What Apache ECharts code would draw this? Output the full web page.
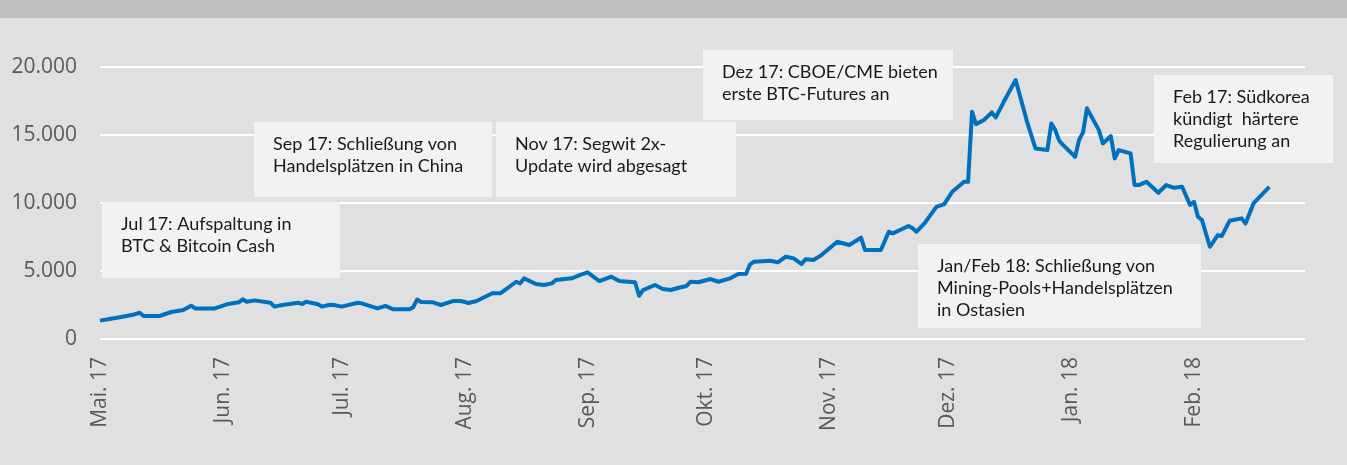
<!DOCTYPE html>
<html>
<head>
<meta charset="utf-8">
<script src="https://cdn.jsdelivr.net/npm/echarts@6/dist/echarts.min.js"></script>
<style>
  html, body { margin: 0; padding: 0; background: #e0e0e0; }
  #chart { width: 1347px; height: 465px; }
</style>
</head>
<body>
<div id="chart"></div>
<script>
// Bitcoin-Kurs (USD), Mai 2017 - Feb 2018
var dates = [
  '2017-05-01', '2017-05-03', '2017-05-06', '2017-05-09', '2017-05-11', '2017-05-12', '2017-05-16', '2017-05-19',
  '2017-05-22', '2017-05-24', '2017-05-25', '2017-05-30', '2017-06-02', '2017-06-05', '2017-06-06', '2017-06-07',
  '2017-06-09', '2017-06-13', '2017-06-14', '2017-06-16', '2017-06-20', '2017-06-21', '2017-06-22', '2017-06-25',
  '2017-06-26', '2017-06-28', '2017-06-29', '2017-07-01', '2017-07-05', '2017-07-06', '2017-07-10', '2017-07-12',
  '2017-07-14', '2017-07-18', '2017-07-19', '2017-07-20', '2017-07-21', '2017-07-24', '2017-07-26', '2017-07-29',
  '2017-07-31', '2017-08-02', '2017-08-04', '2017-08-08', '2017-08-10', '2017-08-14', '2017-08-15', '2017-08-16',
  '2017-08-19', '2017-08-21', '2017-08-23', '2017-08-24', '2017-08-28', '2017-08-30', '2017-09-01', '2017-09-04',
  '2017-09-07', '2017-09-09', '2017-09-13', '2017-09-14', '2017-09-15', '2017-09-18', '2017-09-20', '2017-09-22',
  '2017-09-24', '2017-09-26', '2017-09-27', '2017-09-29', '2017-10-02', '2017-10-04', '2017-10-07', '2017-10-09',
  '2017-10-11', '2017-10-12', '2017-10-13', '2017-10-17', '2017-10-19', '2017-10-21', '2017-10-23', '2017-10-25',
  '2017-10-26', '2017-10-28', '2017-10-30', '2017-11-03', '2017-11-06', '2017-11-09', '2017-11-10', '2017-11-14',
  '2017-11-16', '2017-11-17', '2017-11-21', '2017-11-22', '2017-11-23', '2017-11-25', '2017-11-28', '2017-11-30',
  '2017-12-02', '2017-12-05', '2017-12-06', '2017-12-07', '2017-12-08', '2017-12-10', '2017-12-12', '2017-12-13',
  '2017-12-15', '2017-12-18', '2017-12-21', '2017-12-23', '2017-12-26', '2017-12-27', '2017-12-28', '2017-12-29',
  '2017-12-30', '2018-01-02', '2018-01-03', '2018-01-04', '2018-01-05', '2018-01-08', '2018-01-09', '2018-01-11',
  '2018-01-12', '2018-01-13', '2018-01-16', '2018-01-17', '2018-01-18', '2018-01-20', '2018-01-23', '2018-01-25',
  '2018-01-27', '2018-01-29', '2018-01-31', '2018-02-01', '2018-02-02', '2018-02-03', '2018-02-05', '2018-02-07',
  '2018-02-08', '2018-02-10', '2018-02-13', '2018-02-14', '2018-02-16', '2018-02-20'
];
var prices = [
  1350, 1450, 1600, 1760, 1930, 1690, 1690, 1985,
  2130, 2450, 2250, 2250, 2550, 2700, 2920, 2740,
  2840, 2670, 2380, 2500, 2670, 2570, 2740, 2550,
  2380, 2520, 2500, 2380, 2670, 2620, 2250, 2430,
  2180, 2180, 2330, 2900, 2720, 2700, 2500, 2790,
  2790, 2650, 2790, 3360, 3360, 4210, 4090, 4460,
  4040, 3970, 4090, 4340, 4460, 4700, 4900, 4260,
  4580, 4260, 4170, 3180, 3600, 3970, 3680, 3600,
  3770, 3900, 4210, 4170, 4410, 4210, 4460, 4780,
  4800, 5490, 5680, 5750, 5640, 6050, 5930, 5510,
  5860, 5810, 6170, 7150, 6910, 7450, 6540, 6540,
  7890, 7770, 8310, 8140, 7890, 8500, 9720, 9920,
  10830, 11560, 11560, 16710, 15800, 16100, 16660, 16290,
  17440, 19040, 15850, 14010, 13890, 15850, 15360, 14570,
  14260, 13400, 14630, 15190, 16960, 15360, 14380, 14920,
  13280, 13890, 13650, 11320, 11320, 11560, 10750, 11320,
  11120, 11190, 9850, 10090, 8990, 8750, 6780, 7640,
  7570, 8700, 8870, 8500, 9970, 11190
];

// Achsenbeschriftung
var monthStarts = ['2017-05-01', '2017-06-01', '2017-07-01', '2017-08-01', '2017-09-01',
                   '2017-10-01', '2017-11-01', '2017-12-01', '2018-01-01', '2018-02-01'];
var monthLabels = ['Mai. 17', 'Jun. 17', 'Jul. 17', 'Aug. 17', 'Sep. 17',
                   'Okt. 17', 'Nov. 17', 'Dez. 17', 'Jan. 18', 'Feb. 18'];
var axisStart = '2017-05-01';
var axisEnd = '2018-03-01';
var yTicks = [0, 5000, 10000, 15000, 20000];

// Ereignisse
var notes = [
  'Jul 17: Aufspaltung in\nBTC & Bitcoin Cash',
  'Sep 17: Schließung von\nHandelsplätzen in China',
  'Nov 17: Segwit 2x-\nUpdate wird abgesagt',
  'Dez 17: CBOE/CME bieten\nerste BTC-Futures an',
  'Feb 17: Südkorea\nkündigt  härtere\nRegulierung an',
  'Jan/Feb 18: Schließung von\nMining-Pools+Handelsplätzen\nin Ostasien'
];
// box layout [x, y, w, h]
var noteBoxes = [
  [102, 202, 238, 76],
  [254, 122, 238, 75],
  [496, 122, 240, 75],
  [703, 50, 250, 70],
  [1154, 75, 179, 88],
  [918, 244, 283, 84]
];
var noteFont = '"Liberation Sans Narrow", Lato, sans-serif';

function ts(s) {
  var p = s.split('-');
  return Date.UTC(+p[0], +p[1] - 1, +p[2]);
}

function fmtThousands(v) {
  return String(v).replace(/\B(?=(\d{3})+(?!\d))/g, '.');
}

var seriesData = dates.map(function (d, i) { return [ts(d), prices[i]]; });
var tickValues = monthStarts.map(ts);

var graphics = [{
  type: 'rect',
  shape: { x: 0, y: 0, width: 1347, height: 18 },
  style: { fill: '#bfbfbf' },
  z: 1
}];
notes.forEach(function (t, i) {
  var b = noteBoxes[i];
  graphics.push({
    type: 'rect',
    shape: { x: b[0], y: b[1], width: b[2], height: b[3] },
    style: { fill: '#f2f2f2' },
    z: 1
  });
  graphics.push({
    type: 'text',
    x: b[0] + 19,
    y: b[1] + 11,
    style: {
      text: t,
      fill: '#1a1a1a',
      fontSize: 18,
      fontFamily: noteFont,
      lineHeight: 22,
      verticalAlign: 'top'
    },
    z: 1
  });
});

var chart = echarts.init(document.getElementById('chart'));
chart.setOption({
  backgroundColor: '#e0e0e0',
  animation: false,
  grid: { left: 100, right: 42, top: 67, bottom: 126 },
  xAxis: {
    type: 'value',
    min: ts(axisStart),
    max: ts(axisEnd),
    axisLine: { show: false },
    axisTick: { show: false },
    splitLine: { show: false },
    axisLabel: {
      customValues: tickValues,
      rotate: 90,
      margin: 18,
      color: '#595959',
      fontSize: 21,
      fontFamily: '"Open Sans", sans-serif',
      formatter: function (v) {
        var i = tickValues.indexOf(v);
        return i >= 0 ? monthLabels[i] : '';
      }
    }
  },
  yAxis: {
    type: 'value',
    min: yTicks[0],
    max: yTicks[yTicks.length - 1],
    interval: 5000,
    axisLine: { show: false },
    axisTick: { show: false },
    splitLine: { lineStyle: { color: '#ffffff', width: 2 } },
    axisLabel: {
      margin: 23,
      color: '#595959',
      fontSize: 21,
      fontFamily: '"Open Sans", sans-serif',
      formatter: fmtThousands
    }
  },
  graphic: graphics,
  series: [{
    type: 'line',
    data: seriesData,
    showSymbol: false,
    symbol: 'none',
    lineStyle: { color: '#0070c0', width: 4, join: 'round' },
    z: 3
  }]
});
</script>
</body>
</html>
